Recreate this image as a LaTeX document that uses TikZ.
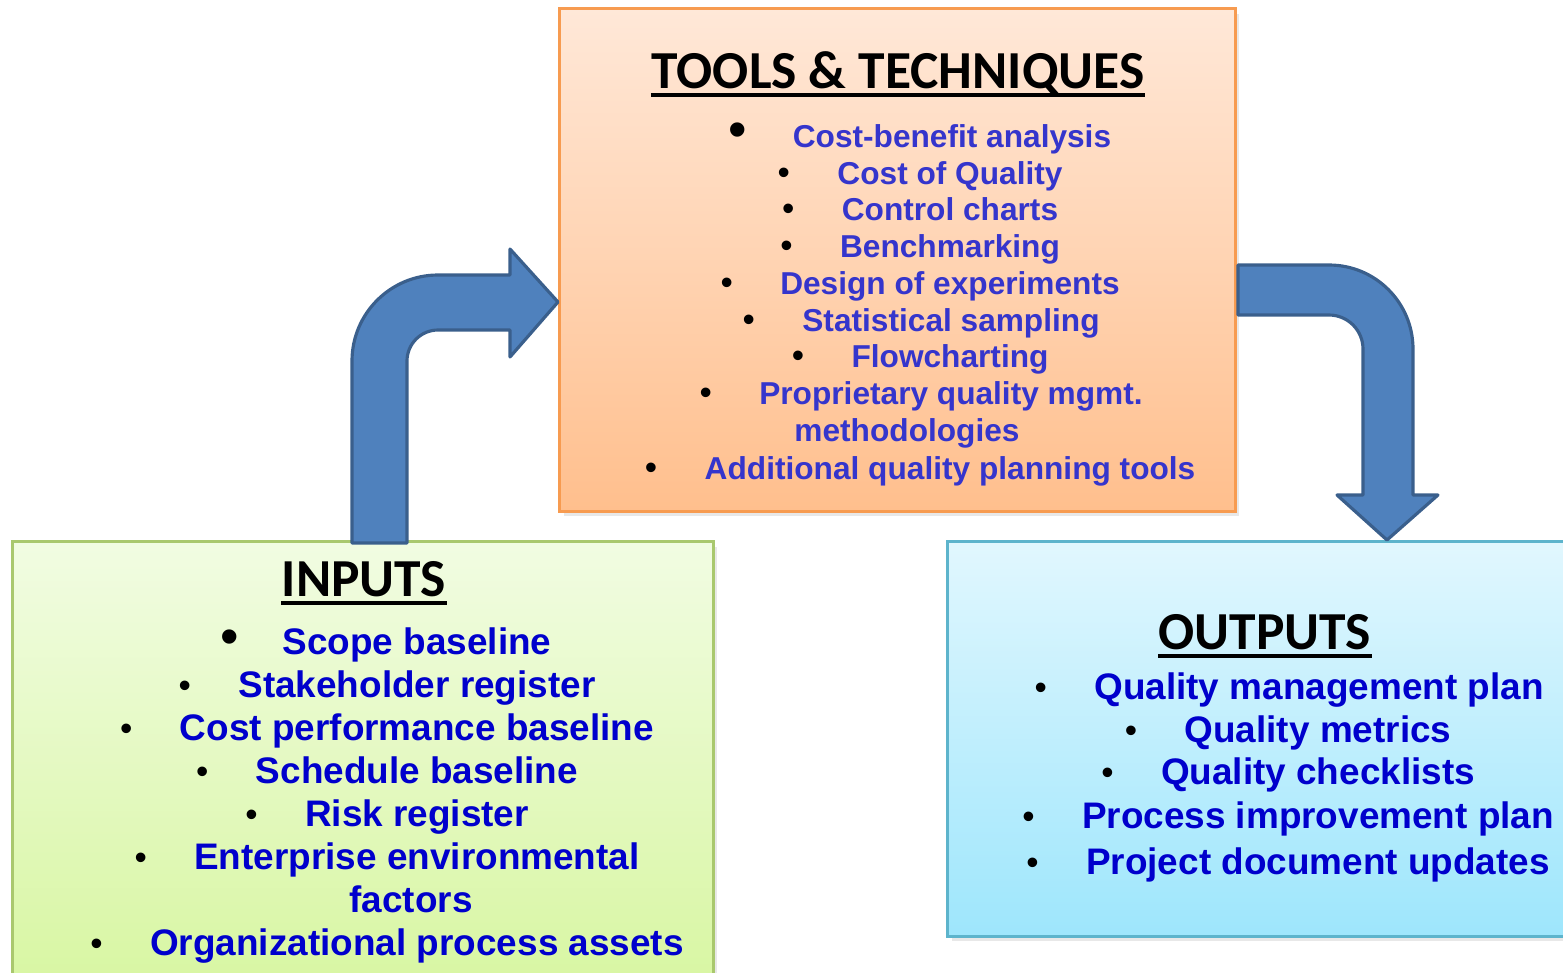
\documentclass[tikz,border=0pt]{standalone}
\usepackage{fontspec}
\setmainfont{Liberation Sans}
\newfontfamily\headfont{Carlito}
\usetikzlibrary{positioning,shadows}

\definecolor{toolstop}{HTML}{FFE8D8}
\definecolor{toolsbot}{HTML}{FFBF8D}
\definecolor{toolsline}{HTML}{F79B50}
\definecolor{inputtop}{HTML}{F1FCE2}
\definecolor{inputbot}{HTML}{D7F6A0}
\definecolor{inputline}{HTML}{A9C86E}
\definecolor{outputtop}{HTML}{E1F7FE}
\definecolor{outputbot}{HTML}{9EE6FC}
\definecolor{outputline}{HTML}{5DB4CC}
\definecolor{toolblue}{HTML}{3535CC}
\definecolor{itemblue}{HTML}{0000CC}
\definecolor{arrowfill}{HTML}{4F81BD}
\definecolor{arrowline}{HTML}{3A5F8C}

\tikzset{
  box/.style={draw, line width=0.8pt, inner sep=0pt,
    drop shadow={opacity=0.18, shadow xshift=0.04cm, shadow yshift=-0.05cm}},
  heading/.style={font=\headfont\bfseries\fontsize{15.2}{18}\selectfont, inner sep=0pt, anchor=base},
  item/.style={font=\bfseries\fontsize{10.5}{12}\selectfont, text=itemblue, inner sep=0pt, anchor=base},
  tool/.style={font=\bfseries\fontsize{9}{11}\selectfont, text=toolblue, inner sep=0pt, anchor=base},
  bul/.style={font=\fontsize{10}{12}\selectfont, inner sep=0pt},
  bigbul/.style={font=\fontsize{15}{18}\selectfont, inner sep=0pt},
  blockarrow/.style={fill=arrowfill, draw=arrowline, line width=0.9pt, line join=round}
}

\begin{document}
\begin{tikzpicture}[x=0.01cm, y=-0.01cm]
% Fix the frame of the picture
  \useasboundingbox (0,0) rectangle (1563,972);
  \clip (0,0) rectangle (1563,972);

% Draw the three boxes
  \node[box, draw=toolsline, top color=toolstop, bottom color=toolsbot,
    minimum width=6.75cm, minimum height=5.02cm] (tools) at (897.5,260) {};
  \node[box, draw=inputline, top color=inputtop, bottom color=inputbot,
    minimum width=7cm, minimum height=4.6cm] (inputs) at (363,772) {};
  \node[box, draw=outputline, top color=outputtop, bottom color=outputbot,
    minimum width=6.3cm, minimum height=3.94cm] (outputs) at (1263,739) {};

% Tools and techniques
  \node[heading] (tooltitle) at (898,88) {TOOLS \& TECHNIQUES};
  \draw[line width=1.1pt] ([yshift=-0.07cm]tooltitle.base west) -- ([yshift=-0.07cm]tooltitle.base east);

  \node[tool] (t1) at (952,147) {Cost-benefit analysis};
  \node[bigbul, base left=0.44cm of t1] (b1) {\textbullet};
  \node[tool] (t2) at (950,184) {Cost of Quality};
  \node[bul, base left=0.46cm of t2] (b2) {\textbullet};
  \node[tool] (t3) at (950,220) {Control charts};
  \node[bul, base left=0.46cm of t3] (b3) {\textbullet};
  \node[tool] (t4) at (950,257) {Benchmarking};
  \node[bul, base left=0.46cm of t4] (b4) {\textbullet};
  \node[tool] (t5) at (950,294) {Design of experiments};
  \node[bul, base left=0.46cm of t5] (b5) {\textbullet};
  \node[tool] (t6) at (951,331) {Statistical sampling};
  \node[bul, base left=0.46cm of t6] (b6) {\textbullet};
  \node[tool] (t7) at (950,367) {Flowcharting};
  \node[bul, base left=0.46cm of t7] (b7) {\textbullet};
  \node[tool] (t8) at (951,404) {Proprietary quality mgmt.};
  \node[bul, base left=0.46cm of t8] (b8) {\textbullet};
  \node[tool] (t8b) at (907,441) {methodologies};
  \node[tool] (t9) at (950,479) {Additional quality planning tools};
  \node[bul, base left=0.46cm of t9] (b9) {\textbullet};

% Inputs
  \node[heading] (intitle) at (364,596) {INPUTS};
  \draw[line width=1.1pt] ([yshift=-0.07cm]intitle.base west) -- ([yshift=-0.07cm]intitle.base east);

  \node[item] (i1) at (417,654) {Scope baseline};
  \node[bigbul, base left=0.42cm of i1] (c1) {\textbullet};
  \node[item] (i2) at (417,697) {Stakeholder register};
  \node[bul, base left=0.46cm of i2] (c2) {\textbullet};
  \node[item] (i3) at (417,740) {Cost performance baseline};
  \node[bul, base left=0.46cm of i3] (c3) {\textbullet};
  \node[item] (i4) at (417,783) {Schedule baseline};
  \node[bul, base left=0.46cm of i4] (c4) {\textbullet};
  \node[item] (i5) at (417,826) {Risk register};
  \node[bul, base left=0.46cm of i5] (c5) {\textbullet};
  \node[item] (i6) at (417,869) {Enterprise environmental};
  \node[bul, base left=0.46cm of i6] (c6) {\textbullet};
  \node[item] (i6b) at (411,912) {factors};
  \node[item] (i7) at (417,955) {Organizational process assets};
  \node[bul, base left=0.46cm of i7] (c7) {\textbullet};

% Outputs
  \node[heading] (outtitle) at (1265,649) {OUTPUTS};
  \draw[line width=1.1pt] ([yshift=-0.07cm]outtitle.base west) -- ([yshift=-0.07cm]outtitle.base east);

  \node[item] (o1) at (1319,699) {Quality management plan};
  \node[bul, base left=0.46cm of o1] (d1) {\textbullet};
  \node[item] (o2) at (1318,742) {Quality metrics};
  \node[bul, base left=0.46cm of o2] (d2) {\textbullet};
  \node[item] (o3) at (1318,784) {Quality checklists};
  \node[bul, base left=0.46cm of o3] (d3) {\textbullet};
  \node[item] (o4) at (1318,828) {Process improvement plan};
  \node[bul, base left=0.46cm of o4] (d4) {\textbullet};
  \node[item] (o5) at (1318,874) {Project document updates};
  \node[bul, base left=0.46cm of o5] (d5) {\textbullet};

% Draw the bent arrow from the inputs up to the tools
  \draw[blockarrow] (352,543) -- (352,361) arc[start angle=180, end angle=270, radius=86]
    -- (510,275) -- (510,249) -- (558,302) -- (510,357) -- (510,330) -- (438,330)
    arc[start angle=270, end angle=180, radius=31] -- (407,543) -- cycle;

% Draw the bent arrow from the tools down to the outputs
  \draw[blockarrow] (1238,265) -- (1329,265) arc[start angle=270, end angle=360, radius=84]
    -- (1413,495) -- (1438,495) -- (1387,540) -- (1337,495) -- (1363,495) -- (1363,349)
    arc[start angle=360, end angle=270, radius=34] -- (1238,315) -- cycle;

\end{tikzpicture}
\end{document}
